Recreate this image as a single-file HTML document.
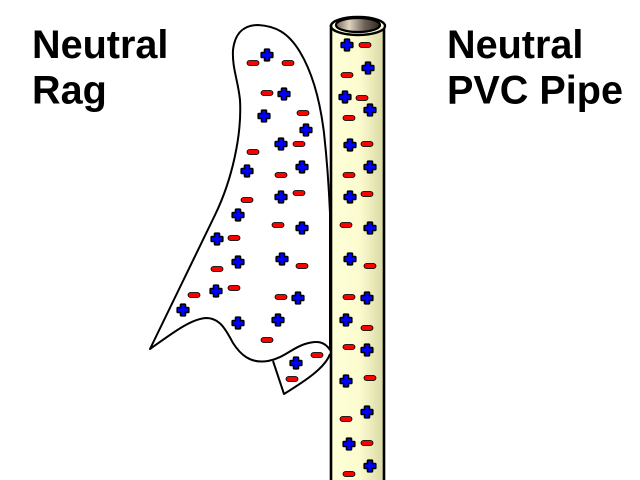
<!DOCTYPE html>
<html>
<head>
<meta charset="utf-8">
<style>
html,body{margin:0;padding:0;background:#fff;width:640px;height:480px;overflow:hidden}
svg{display:block}
text{font-family:"Liberation Sans",sans-serif;font-weight:bold;font-size:39.6px;fill:#000}
</style>
</head>
<body>
<svg width="640" height="480" viewBox="0 0 640 480" xmlns="http://www.w3.org/2000/svg">
<defs>
<linearGradient id="pipe" x1="0" x2="1" y1="0" y2="0">
<stop offset="0" stop-color="#ffffd8"/><stop offset="0.55" stop-color="#fbfbcf"/><stop offset="1" stop-color="#d8d8a4"/>
</linearGradient>
<linearGradient id="hole" x1="0" x2="1" y1="0" y2="0">
<stop offset="0" stop-color="#7a6a58"/><stop offset="0.3" stop-color="#e0d4c0"/><stop offset="0.65" stop-color="#6e6258"/><stop offset="1" stop-color="#2e2820"/>
</linearGradient>
<path id="p" d="M-1.7,-5 h3.4 v3.3 h3.3 v3.4 h-3.3 v3.3 h-3.4 v-3.3 h-3.3 v-3.4 h3.3 z" fill="#0000ff" stroke="#000" stroke-width="3.2" stroke-linejoin="round" paint-order="stroke"/>
<rect id="m" x="-5.5" y="-2" width="11" height="4" rx="2" fill="#ff0000" stroke="#000" stroke-width="1.8" paint-order="stroke"/>
</defs>

<text x="32" y="58">Neutral</text>
<text x="32" y="103.5">Rag</text>
<text x="447" y="58">Neutral</text>
<text x="447" y="103.5">PVC Pipe</text>

<!-- Rag -->
<path d="M150,349 L215,215 C232,180 242,135 240,100 C238,80 232,68 233,50 C235,32 245,25 258,25 C275,26 288,32 300,52 C312,72 320,100 324,133 C327,160 329,190 330,213 L330,350 C325,342 318,340 305,344 C292,348 284,358 268,361 C250,364 240,354 233,343 C226,330 220,318 206,318 C190,319 170,335 150,349 Z" fill="#fff" stroke="#000" stroke-width="2" stroke-linejoin="round"/>
<path d="M273,361 L284,394 C305,381 325,368 330,354" fill="#fff" stroke="#000" stroke-width="2" stroke-linejoin="round"/>

<!-- Pipe -->
<path d="M331,26 V482 H384 V26 Z" fill="url(#pipe)" stroke="#000" stroke-width="2.6"/>
<ellipse cx="358" cy="26" rx="27" ry="9" fill="#ffffd8" stroke="#000" stroke-width="2.4"/>
<ellipse cx="358" cy="25" rx="22" ry="7" fill="url(#hole)" stroke="#000" stroke-width="2.2"/>

<!-- Rag plus -->
<use href="#p" x="267" y="55"/><use href="#p" x="284" y="94"/><use href="#p" x="264" y="116"/>
<use href="#p" x="306" y="130"/><use href="#p" x="281" y="144"/><use href="#p" x="302" y="167"/>
<use href="#p" x="247" y="171"/><use href="#p" x="281" y="197"/><use href="#p" x="238" y="215"/>
<use href="#p" x="302" y="228"/><use href="#p" x="217" y="239"/><use href="#p" x="282" y="259"/>
<use href="#p" x="238" y="262"/><use href="#p" x="298" y="298"/><use href="#p" x="216" y="291"/>
<use href="#p" x="183" y="310"/><use href="#p" x="238" y="323"/><use href="#p" x="278" y="320"/>
<use href="#p" x="296" y="363"/>

<!-- Rag minus -->
<use href="#m" x="253" y="63"/><use href="#m" x="288" y="63"/><use href="#m" x="267" y="93"/>
<use href="#m" x="303" y="113"/><use href="#m" x="299" y="144"/><use href="#m" x="253" y="152"/>
<use href="#m" x="281" y="175"/><use href="#m" x="299" y="193"/><use href="#m" x="247" y="200"/>
<use href="#m" x="278" y="225"/><use href="#m" x="234" y="238"/><use href="#m" x="302" y="266"/>
<use href="#m" x="217" y="269"/><use href="#m" x="234" y="288"/><use href="#m" x="194" y="295"/>
<use href="#m" x="281" y="297"/><use href="#m" x="267" y="340"/><use href="#m" x="317" y="355"/>
<use href="#m" x="292" y="379"/>

<!-- Pipe plus -->
<use href="#p" x="347" y="45"/><use href="#p" x="368" y="68"/><use href="#p" x="345" y="97"/>
<use href="#p" x="370" y="110"/><use href="#p" x="350" y="145"/><use href="#p" x="370" y="167"/>
<use href="#p" x="350" y="197"/><use href="#p" x="370" y="228"/><use href="#p" x="350" y="259"/>
<use href="#p" x="367" y="298"/><use href="#p" x="346" y="320"/><use href="#p" x="367" y="350"/>
<use href="#p" x="346" y="381"/><use href="#p" x="367" y="412"/><use href="#p" x="349" y="444"/>
<use href="#p" x="370" y="466"/>

<!-- Pipe minus -->
<use href="#m" x="365" y="45"/><use href="#m" x="347" y="75"/><use href="#m" x="362" y="98"/>
<use href="#m" x="349" y="118"/><use href="#m" x="367" y="144"/><use href="#m" x="349" y="175"/>
<use href="#m" x="367" y="194"/><use href="#m" x="346" y="225"/><use href="#m" x="370" y="266"/>
<use href="#m" x="349" y="297"/><use href="#m" x="367" y="328"/><use href="#m" x="349" y="347"/>
<use href="#m" x="370" y="378"/><use href="#m" x="346" y="419"/><use href="#m" x="367" y="443"/>
<use href="#m" x="349" y="474"/>
</svg>
</body>
</html>
